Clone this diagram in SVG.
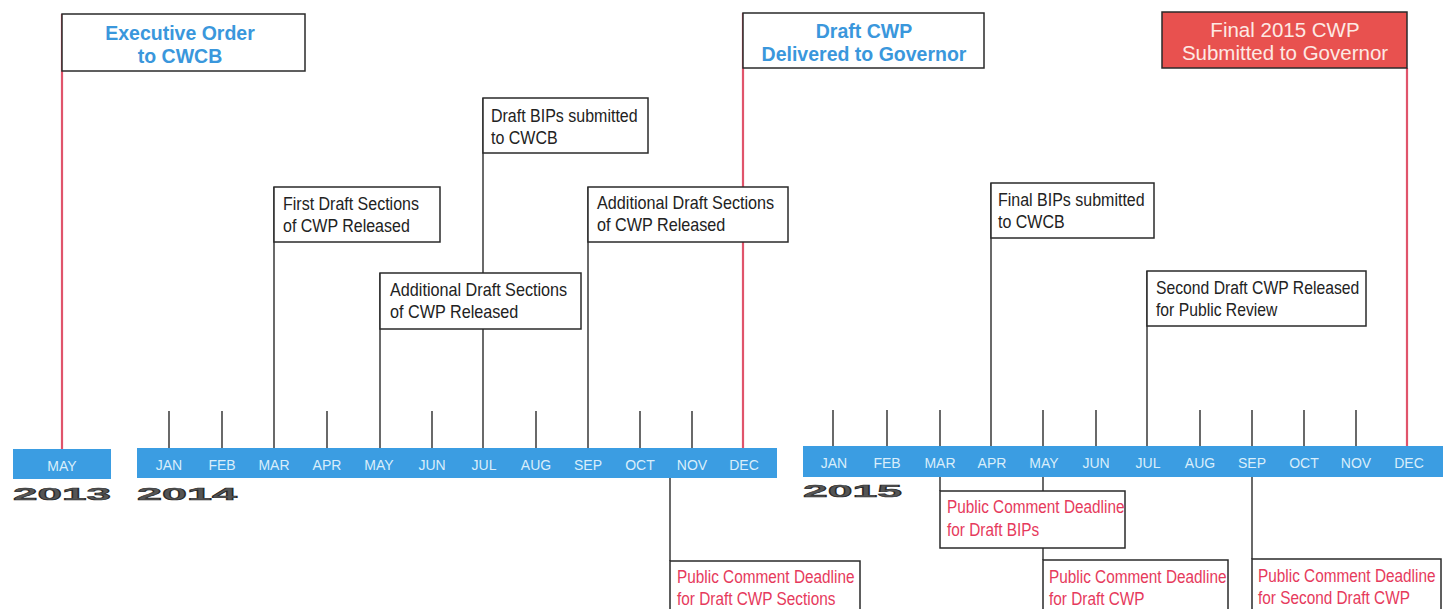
<svg xmlns="http://www.w3.org/2000/svg" width="1452" height="609" viewBox="0 0 1452 609">
<style>
.bg{fill:#ffffff}
.bar{fill:#3b9de2}
.mon{font-family:"Liberation Sans",Arial,sans-serif;font-size:14px;fill:#d9eefb;text-anchor:middle}
.yr{font-family:"Liberation Sans","Arial",sans-serif;font-weight:900;font-size:16.5px;fill:#555555;stroke:#2a2a2a;stroke-width:0.6}
.ln{stroke:#2a2a2a;stroke-width:1.4;fill:none}
.rl{stroke:#e0546b;stroke-width:2.2;fill:none}
.box{fill:#ffffff;stroke:#2a2a2a;stroke-width:1.5}
.rbox{fill:#e8514f;stroke:#2a2a2a;stroke-width:1.5}
.ev{font-family:"Liberation Sans",Arial,sans-serif;font-size:18.5px;fill:#222}
.pc{font-family:"Liberation Sans",Arial,sans-serif;font-size:18.5px;fill:#e63a5c}
.bt{font-family:"Liberation Sans",Arial,sans-serif;font-weight:bold;font-size:19.5px;fill:#3a97dc;text-anchor:middle}
.wt{font-family:"Liberation Sans",Arial,sans-serif;font-size:20.5px;fill:#fde9e4;text-anchor:middle}
</style>
<rect class="bg" x="0" y="0" width="1452" height="609"/>

<g id="connectors">
  <line class="rl" x1="62" y1="14" x2="62" y2="449"/>
  <line class="rl" x1="743" y1="13" x2="743" y2="448"/>
  <line class="rl" x1="1407" y1="68" x2="1407" y2="446"/>
  <line class="ln" x1="274" y1="187" x2="274" y2="448"/>
  <line class="ln" x1="380" y1="273" x2="380" y2="448"/>
  <line class="ln" x1="483" y1="98" x2="483" y2="448"/>
  <line class="ln" x1="588" y1="187" x2="588" y2="448"/>
  <line class="ln" x1="169" y1="411" x2="169" y2="448"/>
  <line class="ln" x1="222" y1="411" x2="222" y2="448"/>
  <line class="ln" x1="327" y1="411" x2="327" y2="448"/>
  <line class="ln" x1="432" y1="411" x2="432" y2="448"/>
  <line class="ln" x1="536" y1="411" x2="536" y2="448"/>
  <line class="ln" x1="640" y1="411" x2="640" y2="448"/>
  <line class="ln" x1="692" y1="411" x2="692" y2="448"/>
  <line class="ln" x1="670" y1="478" x2="670" y2="561"/>
  <line class="ln" x1="991" y1="183" x2="991" y2="446"/>
  <line class="ln" x1="1147" y1="271" x2="1147" y2="446"/>
  <line class="ln" x1="833" y1="410" x2="833" y2="446"/>
  <line class="ln" x1="887" y1="410" x2="887" y2="446"/>
  <line class="ln" x1="940" y1="410" x2="940" y2="446"/>
  <line class="ln" x1="1043" y1="410" x2="1043" y2="446"/>
  <line class="ln" x1="1096" y1="410" x2="1096" y2="446"/>
  <line class="ln" x1="1200" y1="410" x2="1200" y2="446"/>
  <line class="ln" x1="1252" y1="410" x2="1252" y2="446"/>
  <line class="ln" x1="1304" y1="410" x2="1304" y2="446"/>
  <line class="ln" x1="1356" y1="410" x2="1356" y2="446"/>
  <line class="ln" x1="940" y1="476" x2="940" y2="491"/>
  <line class="ln" x1="1043" y1="476" x2="1043" y2="560"/>
  <line class="ln" x1="1252" y1="476" x2="1252" y2="559"/>
</g>

<g id="timeline">
  <rect class="bar" x="13" y="449" width="98" height="30"/>
  <text class="mon" x="62" y="471">MAY</text>
  <rect class="bar" x="137" y="448" width="640" height="30"/>
  <text class="mon" x="169" y="470">JAN</text>
  <text class="mon" x="222" y="470">FEB</text>
  <text class="mon" x="274" y="470">MAR</text>
  <text class="mon" x="327" y="470">APR</text>
  <text class="mon" x="379" y="470">MAY</text>
  <text class="mon" x="432" y="470">JUN</text>
  <text class="mon" x="484" y="470">JUL</text>
  <text class="mon" x="536" y="470">AUG</text>
  <text class="mon" x="588" y="470">SEP</text>
  <text class="mon" x="640" y="470">OCT</text>
  <text class="mon" x="692" y="470">NOV</text>
  <text class="mon" x="744" y="470">DEC</text>
  <rect class="bar" x="803" y="446" width="640" height="31"/>
  <text class="mon" x="834" y="468">JAN</text>
  <text class="mon" x="887" y="468">FEB</text>
  <text class="mon" x="940" y="468">MAR</text>
  <text class="mon" x="992" y="468">APR</text>
  <text class="mon" x="1044" y="468">MAY</text>
  <text class="mon" x="1096" y="468">JUN</text>
  <text class="mon" x="1148" y="468">JUL</text>
  <text class="mon" x="1200" y="468">AUG</text>
  <text class="mon" x="1252" y="468">SEP</text>
  <text class="mon" x="1304" y="468">OCT</text>
  <text class="mon" x="1356" y="468">NOV</text>
  <text class="mon" x="1409" y="468">DEC</text>
  <text class="yr" x="13" y="500" textLength="98" lengthAdjust="spacingAndGlyphs">2013</text>
  <text class="yr" x="137" y="500" textLength="100" lengthAdjust="spacingAndGlyphs">2014</text>
  <text class="yr" x="803" y="497" textLength="99" lengthAdjust="spacingAndGlyphs">2015</text>
</g>

<g id="executive-order">
  <rect class="box" x="62" y="14" width="243" height="57"/>
  <text class="bt" x="180" y="40">Executive Order</text>
  <text class="bt" x="180" y="63">to CWCB</text>
</g>
<g id="first-draft">
  <rect class="box" x="274" y="187" width="166" height="55"/>
  <text class="ev" transform="translate(283 0) scale(0.865 1)" x="0" y="210">First Draft Sections</text>
  <text class="ev" transform="translate(283 0) scale(0.865 1)" x="0" y="232">of CWP Released</text>
</g>
<g id="draft-bips">
  <rect class="box" x="483" y="98" width="165" height="55"/>
  <text class="ev" transform="translate(491 0) scale(0.865 1)" x="0" y="122">Draft BIPs submitted</text>
  <text class="ev" transform="translate(491 0) scale(0.865 1)" x="0" y="144">to CWCB</text>
</g>
<g id="additional-may">
  <rect class="box" x="380" y="273" width="201" height="56"/>
  <text class="ev" transform="translate(390 0) scale(0.875 1)" x="0" y="296">Additional Draft Sections</text>
  <text class="ev" transform="translate(390 0) scale(0.875 1)" x="0" y="318">of CWP Released</text>
</g>
<g id="additional-sep">
  <rect class="box" x="588" y="187" width="200" height="55"/>
  <text class="ev" transform="translate(597 0) scale(0.875 1)" x="0" y="209">Additional Draft Sections</text>
  <text class="ev" transform="translate(597 0) scale(0.875 1)" x="0" y="231">of CWP Released</text>
</g>
<g id="draft-cwp-delivered">
  <rect class="box" x="743" y="13" width="241" height="55"/>
  <text class="bt" x="864" y="38">Draft CWP</text>
  <text class="bt" x="864" y="61">Delivered to Governor</text>
</g>
<g id="final-bips">
  <rect class="box" x="991" y="183" width="163" height="55"/>
  <text class="ev" transform="translate(998 0) scale(0.865 1)" x="0" y="206">Final BIPs submitted</text>
  <text class="ev" transform="translate(998 0) scale(0.865 1)" x="0" y="228">to CWCB</text>
</g>
<g id="second-draft">
  <rect class="box" x="1147" y="271" width="219" height="55"/>
  <text class="ev" transform="translate(1156 0) scale(0.85 1)" x="0" y="294">Second Draft CWP Released</text>
  <text class="ev" transform="translate(1156 0) scale(0.85 1)" x="0" y="316">for Public Review</text>
</g>
<g id="final-2015">
  <rect class="rbox" x="1162" y="12" width="245" height="56"/>
  <text class="wt" x="1285" y="37">Final 2015 CWP</text>
  <text class="wt" x="1285" y="60">Submitted to Governor</text>
</g>
<g id="pc-cwp-sections">
  <rect class="box" x="670" y="561" width="190" height="60"/>
  <text class="pc" transform="translate(677 0) scale(0.83 1)" x="0" y="583">Public Comment Deadline</text>
  <text class="pc" transform="translate(677 0) scale(0.83 1)" x="0" y="605">for Draft CWP Sections</text>
</g>
<g id="pc-bips">
  <rect class="box" x="940" y="491" width="185" height="57"/>
  <text class="pc" transform="translate(947 0) scale(0.83 1)" x="0" y="513">Public Comment Deadline</text>
  <text class="pc" transform="translate(947 0) scale(0.83 1)" x="0" y="536">for Draft BIPs</text>
</g>
<g id="pc-draft-cwp">
  <rect class="box" x="1043" y="560" width="185" height="60"/>
  <text class="pc" transform="translate(1049 0) scale(0.83 1)" x="0" y="583">Public Comment Deadline</text>
  <text class="pc" transform="translate(1049 0) scale(0.83 1)" x="0" y="605">for Draft CWP</text>
</g>
<g id="pc-second-draft">
  <rect class="box" x="1252" y="559" width="189" height="60"/>
  <text class="pc" transform="translate(1258 0) scale(0.83 1)" x="0" y="582">Public Comment Deadline</text>
  <text class="pc" transform="translate(1258 0) scale(0.83 1)" x="0" y="604">for Second Draft CWP</text>
</g>
</svg>
